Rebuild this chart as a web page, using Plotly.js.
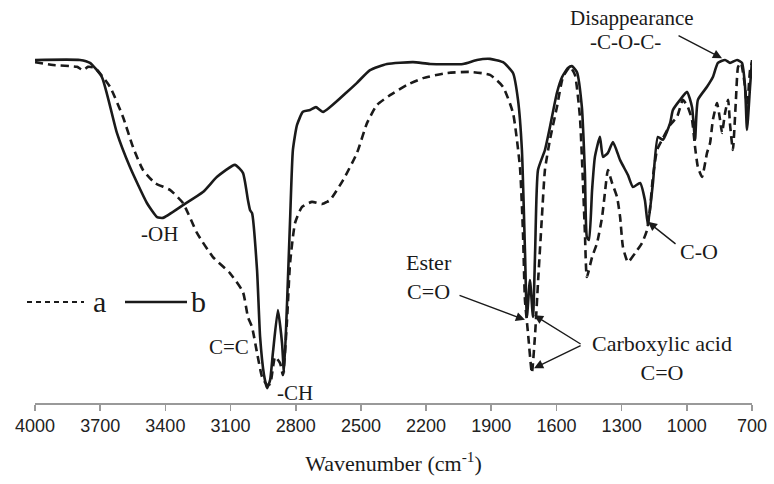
<!DOCTYPE html>
<html>
<head>
<meta charset="utf-8">
<script src="https://cdn.plot.ly/plotly-3.0.1.min.js"></script>
<style>html,body{margin:0;padding:0;background:#fff;}#chart{width:774px;height:484px;}</style>
</head>
<body>
<div id="chart"></div>
<script>
// Spectrum a (dashed): wavenumber (cm-1) and transmittance (%)
const waveA = [4000,3917,3807,3779,3756,3724,3655,3595,3549,3503,3448,3379,3319,3254,3181,3103,3043,3020,3001,2978,2955,2932,2918,2895,2872,2859,2840,2826,2803,2771,2725,2679,2656,2642,2582,2518,2472,2426,2366,2288,2214,2104,1998,1906,1846,1800,1768,1754,1745,1731,1713,1698,1685,1667,1653,1630,1598,1570,1538,1515,1492,1478,1469,1460,1436,1413,1390,1377,1363,1344,1321,1307,1294,1271,1238,1206,1183,1170,1156,1137,1114,1077,1045,1018,995,976,962,949,930,907,893,880,861,847,838,824,810,801,788,774,764,751,732,723,709,700];
const transA = [93.9,93.1,92.6,91.7,92.6,92.3,87.1,78.8,70.5,64.2,60.6,58.7,55.1,46.8,40.2,35.8,30.6,23.7,20.9,13.8,7.2,5.0,5.2,12.7,11.0,7.7,22.9,38.6,49.6,54.0,55.4,54.8,55.4,55.9,61.4,68.9,77.1,82.1,84.8,87.6,89.5,90.9,91.2,90.4,87.1,79.9,65.0,46.8,28.4,19.3,8.3,19.3,33.1,51.2,64.2,72.5,81.5,89.8,92.6,90.4,78.8,60.6,46.8,34.7,40.2,44.1,51.2,57.9,64.2,60.6,56.7,51.2,43.0,38.8,41.3,44.1,47.7,53.2,62.3,69.7,72.5,76.6,78.8,83.5,81.5,78.0,70.5,65.0,62.3,68.9,71.6,78.0,82.6,78.0,74.4,79.9,83.5,76.6,69.7,83.5,92.6,93.7,87.1,80.7,91.7,93.9];

// Spectrum b (solid)
const waveB = [4000,3793,3747,3692,3623,3563,3485,3438,3411,3319,3227,3162,3080,3043,3020,3010,3001,2978,2964,2946,2932,2918,2905,2882,2863,2854,2840,2826,2813,2794,2767,2734,2707,2674,2564,2518,2458,2380,2260,2182,2030,1966,1906,1846,1800,1777,1759,1745,1736,1722,1708,1698,1685,1653,1630,1598,1574,1547,1529,1506,1483,1469,1460,1450,1436,1423,1400,1386,1363,1340,1307,1271,1248,1215,1193,1179,1156,1133,1110,1077,1064,1031,999,976,962,949,907,880,857,824,801,769,746,732,723,709,700];
const transB = [94.5,94.5,93.7,89.8,74.4,65.0,55.1,51.2,51.0,54.5,58.1,62.3,65.6,63.4,55.9,53.1,52.3,36.6,18.2,7.7,4.1,6.3,13.8,25.6,16.5,8.3,27.5,50.4,69.7,76.6,80.2,80.7,81.5,80.2,85.7,88.2,91.7,93.4,93.9,93.4,93.4,94.5,94.8,93.9,90.9,83.5,69.7,42.1,23.7,33.9,23.7,42.1,64.2,69.7,76.0,85.4,89.8,92.3,92.8,91.2,81.5,63.4,45.7,44.9,58.7,67.8,73.3,67.8,68.9,71.9,66.9,62.8,59.5,60.6,55.9,49.0,60.6,73.3,72.5,77.1,80.7,83.5,85.7,81.5,72.5,83.5,87.1,89.8,93.7,94.5,93.7,94.5,93.7,87.1,75.2,87.1,94.5];

const seriesNames = ["a", "b"];
const tickValues = [4000,3700,3400,3100,2800,2500,2200,1900,1600,1300,1000,700];
const tickLabels = tickValues.map(String);

const serif = "Liberation Serif, Times New Roman, serif";
const narrow = "Liberation Sans Narrow, Arial Narrow, Liberation Sans, Arial, sans-serif";
const ink = "#1a1a1a";

const traces = [
  {x: waveA, y: transA, name: seriesNames[0], type: "scatter", mode: "lines",
   line: {color: ink, width: 2.6, dash: "8px,5px", shape: "spline", smoothing: 0.5}, showlegend: false, hoverinfo: "skip"},
  {x: waveB, y: transB, name: seriesNames[1], type: "scatter", mode: "lines",
   line: {color: ink, width: 2.6, shape: "spline", smoothing: 0.5}, showlegend: false, hoverinfo: "skip"}
];

// layout frame (pixels)
const L = 35, R = 22, T = 40, B = 81;
const pw = 774 - L - R, ph = 484 - T - B;
function px(x) { return (x - L) / pw; }
function py(y) { return (484 - B - y) / ph; }

function txt(text, x, y, size) {
  return {text: text, x: x, y: y, xref: "x", yref: "y", showarrow: false,
          xanchor: "center", yanchor: "middle", font: {family: serif, size: size || 21, color: ink}};
}
function arrow(hx, hy, tx, ty) {
  return {text: "", x: hx, y: hy, ax: tx, ay: ty, xref: "x", yref: "y", axref: "x", ayref: "y",
          showarrow: true, arrowhead: 2, arrowsize: 1.3, arrowwidth: 1.4, arrowcolor: ink, standoff: 0, startstandoff: 0};
}

const annotations = [
  {text: "Disappearance", x: 1252, y: py(18), xref: "x", yref: "paper", showarrow: false,
   xanchor: "center", yanchor: "middle", font: {family: serif, size: 21, color: ink}},
  {text: "-C-O-C-", x: 1280, y: py(42), xref: "x", yref: "paper", showarrow: false,
   xanchor: "center", yanchor: "middle", font: {family: serif, size: 21, color: ink}},
  arrow(838, 95.0, 1045, 101.4),
  txt("-OH", 3429, 46.6),
  txt("C=C", 3107, 15.4),
  txt("-CH", 2803, 2.8),
  txt("Ester<br>C=O", 2185, 34.8, 22),
  arrow(1745, 22.9, 2053, 29.8),
  txt("Carboxylic acid<br>C=O", 1114, 12.5, 22),
  arrow(1703, 24.2, 1482, 16.0),
  arrow(1703, 9.6, 1482, 16.0),
  txt("C-O", 944, 41.6, 22),
  arrow(1179, 49.9, 1045, 43.5),
  // legend labels
  {text: seriesNames[0], x: px(99), y: py(301), xref: "paper", yref: "paper", showarrow: false,
   xanchor: "center", yanchor: "middle", font: {family: serif, size: 30, color: ink}},
  {text: seriesNames[1], x: px(198), y: py(301), xref: "paper", yref: "paper", showarrow: false,
   xanchor: "center", yanchor: "middle", font: {family: serif, size: 30, color: ink}}
];

const shapes = [
  {type: "line", xref: "paper", yref: "paper", x0: px(27), x1: px(84), y0: py(302), y1: py(302),
   line: {color: ink, width: 2.2, dash: "5px,4px"}},
  {type: "line", xref: "paper", yref: "paper", x0: px(125), x1: px(187), y0: py(302), y1: py(302),
   line: {color: ink, width: 2.4}}
];

const layout = {
  width: 774, height: 484,
  margin: {l: L, r: R, t: T, b: B},
  paper_bgcolor: "#fff", plot_bgcolor: "#fff",
  showlegend: false,
  xaxis: {
    range: [4000, 700], tickmode: "array", tickvals: tickValues, ticktext: tickLabels,
    showline: true, linecolor: "#999", linewidth: 1.6, ticks: "outside", ticklen: 6, tickwidth: 1.6, tickcolor: "#999",
    showgrid: false, zeroline: false, mirror: false,
    tickfont: {family: narrow, size: 18, color: "#222"},
    title: {text: "Wavenumber (cm<sup>-1</sup>)", font: {family: serif, size: 22, color: ink}, standoff: 20},
    automargin: false
  },
  yaxis: {range: [0, 100], visible: false, showgrid: false, zeroline: false},
  annotations: annotations,
  shapes: shapes
};

Plotly.newPlot("chart", traces, layout, {staticPlot: true, displayModeBar: false});
</script>
</body>
</html>
